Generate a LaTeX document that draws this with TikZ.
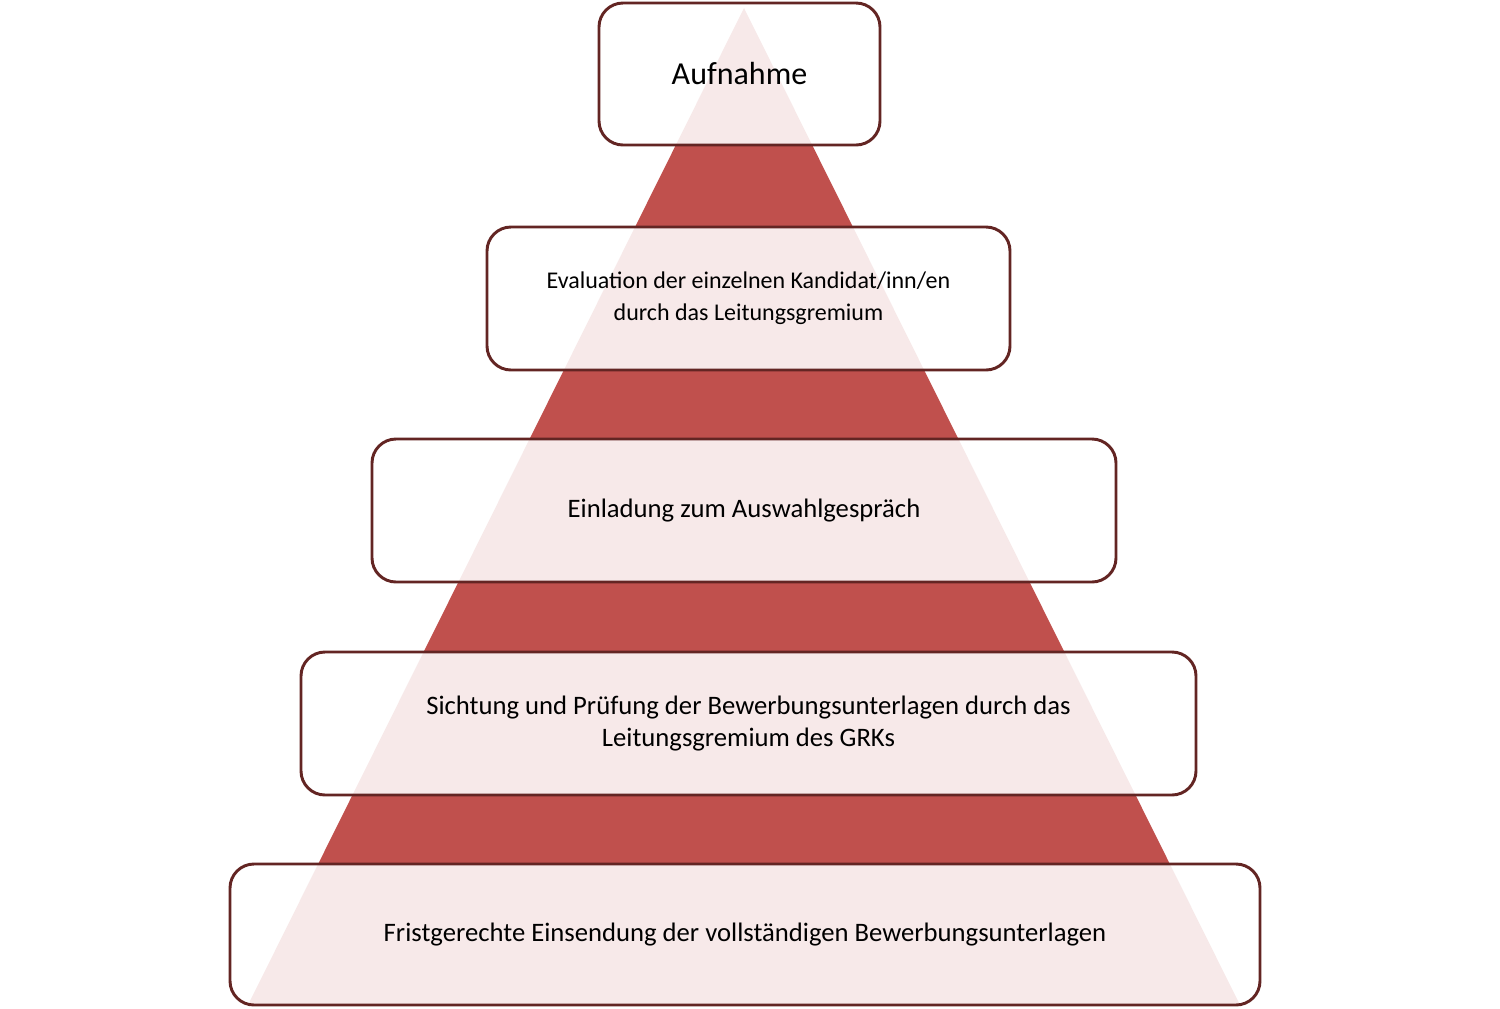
\documentclass[tikz,border=0pt]{standalone}
\usepackage{fontspec}
\setmainfont{Carlito}
\definecolor{tri}{HTML}{C0504D}
\definecolor{bord}{HTML}{632523}
\begin{document}
\begin{tikzpicture}[x=0.75pt,y=-0.75pt,
  stage/.style={draw=bord,line width=2.2pt,rounded corners=18pt,fill=white,fill opacity=0.88,text opacity=1,align=center,font=\fontsize{20}{24}\selectfont}]
\useasboundingbox (0,0) rectangle (1500,1008);
\fill[tri] (744,8) -- (1240,1005) -- (248,1005) -- cycle;
\node[stage,minimum width=281*0.75pt,minimum height=142*0.75pt,font=\fontsize{24}{28}\selectfont] (a) at (739.5,74) {Aufnahme};
\node[stage,minimum width=523*0.75pt,minimum height=143*0.75pt,font=\fontsize{18}{24}\selectfont] (b) at (748.5,298.5) {Evaluation der einzelnen Kandidat/inn/en\\durch das Leitungsgremium};
\node[stage,minimum width=744*0.75pt,minimum height=143*0.75pt] (c) at (744,510.5) {Einladung zum Auswahlgespräch};
\node[stage,minimum width=895*0.75pt,minimum height=143*0.75pt] (d) at (748.5,723.5) {Sichtung und Prüfung der Bewerbungsunterlagen durch das\\Leitungsgremium des GRKs};
\node[stage,minimum width=1030*0.75pt,minimum height=141*0.75pt] (e) at (745,934.5) {Fristgerechte Einsendung der vollständigen Bewerbungsunterlagen};
\end{tikzpicture}
\end{document}
